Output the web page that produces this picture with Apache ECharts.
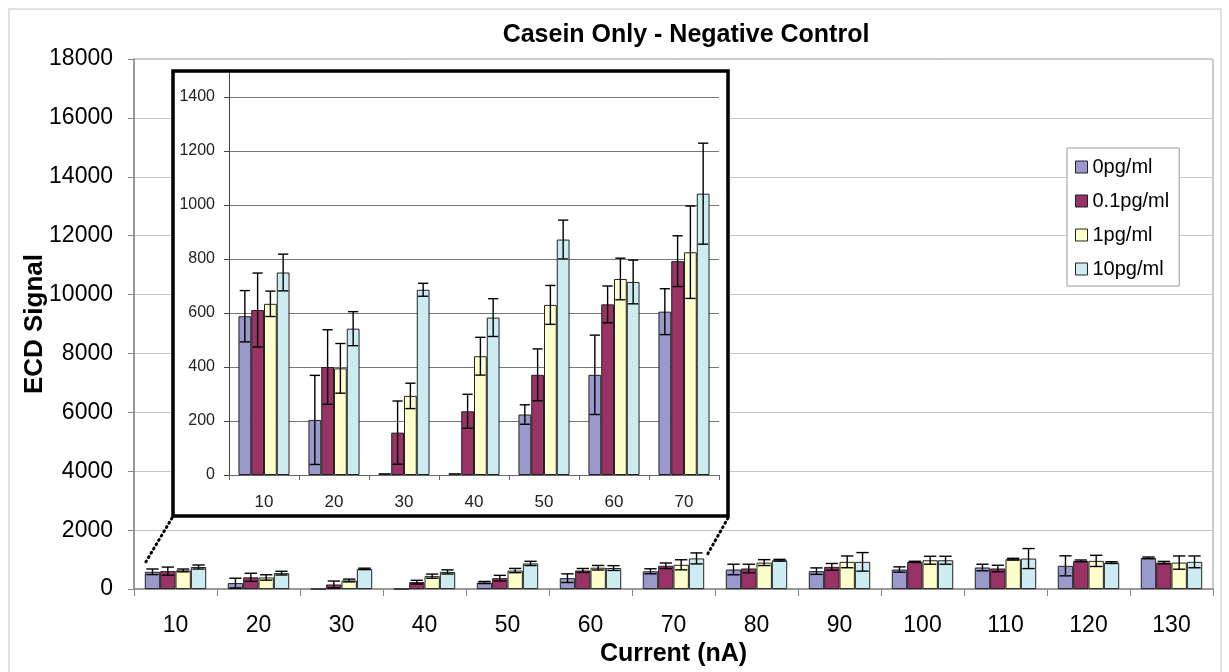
<!DOCTYPE html>
<html><head><meta charset="utf-8">
<script src="https://cdn.jsdelivr.net/npm/echarts@6/dist/echarts.min.js"></script>
<style>html,body{margin:0;padding:0;background:#fff}#c{width:1229px;height:672px}</style>
</head><body><div id="c"></div>
<script>
const categories = ['10','20','30','40','50','60','70','80','90','100','110','120','130'];
const insetCount = 7;
const seriesNames = ['0pg/ml','0.1pg/ml','1pg/ml','10pg/ml'];
const colors = ['#9999CC','#993366','#FFFFCC','#CCECF2'];
const v0 = [588, 204, 7, 7, 224, 371, 605, 665, 610, 665, 733, 790, 1060];
const e0 = [95, 165, 0, 0, 36, 147, 85, 180, 110, 90, 112, 340, 30];
const v1 = [611, 400, 157, 236, 371, 632, 792, 700, 755, 925, 700, 958, 900];
const e1 = [137, 138, 117, 63, 96, 68, 94, 145, 115, 20, 110, 30, 40];
const v2 = [634, 395, 293, 440, 630, 726, 825, 900, 925, 980, 1015, 958, 900];
const e2 = [47, 92, 47, 70, 72, 77, 171, 100, 200, 135, 30, 190, 225];
const v3 = [750, 542, 686, 583, 872, 715, 1042, 980, 925, 980, 1037, 900, 925];
const e3 = [68, 63, 24, 70, 72, 81, 187, 30, 315, 135, 340, 30, 200];
const mainTicks = {min:0, max:18000, interval:2000};
const insetTicks = {min:0, max:1500, interval:200};

const vals = [v0,v1,v2,v3], errs = [e0,e1,e2,e3];
const FONT = 'Liberation Sans, Arial, sans-serif';
const mainGap = 0.26, insetGap = 0.27;
const plain = v => String(v);

function errRender(k, errArr, gap) {
  return function(params, api) {
    const i = params.dataIndex;
    const e = errArr[i];
    if (!e) return null;
    const x0 = api.value(0), v = api.value(1);
    const c = api.coord([x0, v]);
    const catW = api.size([1, 0])[0];
    const bw = catW * (1 - gap) / 4;
    const x = c[0] + (k - 1.5) * bw;
    const top = api.coord([x0, v + e])[1];
    const bot = api.coord([x0, Math.max(0, v - e)])[1];
    const cw = bw * 0.4;
    const st = {stroke:'#000', lineWidth:1.4};
    return {type:'group', children:[
      {type:'line', shape:{x1:x, y1:top, x2:x, y2:bot}, style:st},
      {type:'line', shape:{x1:x-cw, y1:top, x2:x+cw, y2:top}, style:st},
      {type:'line', shape:{x1:x-cw, y1:bot, x2:x+cw, y2:bot}, style:st}
    ]};
  };
}

const series = [];
seriesNames.forEach((n, k) => {
  series.push({name:n, type:'bar', xAxisIndex:0, yAxisIndex:0, data:vals[k],
    barGap:'0%', barCategoryGap:(mainGap*100)+'%', z:2,
    itemStyle:{color:colors[k], borderColor:'#222', borderWidth:1}});
});
seriesNames.forEach((n, k) => {
  series.push({name:n, type:'custom', xAxisIndex:0, yAxisIndex:0, z:3,
    data:vals[k].map((v,i)=>[i,v]), renderItem:errRender(k, errs[k], mainGap)});
});
seriesNames.forEach((n, k) => {
  series.push({name:n, type:'bar', xAxisIndex:1, yAxisIndex:1, data:vals[k].slice(0, insetCount),
    barGap:'0%', barCategoryGap:(insetGap*100)+'%', z:7,
    itemStyle:{color:colors[k], borderColor:'#222', borderWidth:1}});
});
seriesNames.forEach((n, k) => {
  series.push({name:n, type:'custom', xAxisIndex:1, yAxisIndex:1, z:8,
    data:vals[k].slice(0, insetCount).map((v,i)=>[i,v]), renderItem:errRender(k, errs[k], insetGap)});
});

const chart = echarts.init(document.getElementById('c'), null, {renderer:'canvas'});
chart.setOption({
  animation:false,
  textStyle:{fontFamily:FONT},
  title:{text:'Casein Only - Negative Control', left:681, top:18, textAlign:'center',
    textStyle:{fontSize:25, fontWeight:'bold', color:'#000', fontFamily:FONT}},
  legend:{orient:'vertical', left:1067, top:148, data:seriesNames,
    padding:[9, 10, 7, 8], itemGap:14, itemWidth:12, itemHeight:12, itemTextGap:7,
    backgroundColor:'#fff', borderColor:'#999', borderWidth:1, icon:'rect',
    itemStyle:{borderColor:'#222', borderWidth:1},
    textStyle:{fontSize:20, color:'#000', fontFamily:FONT, lineHeight:20}},
  grid:[
    {left:134, top:59, width:1079, height:532, show:true, borderColor:'#999', borderWidth:1, z:0},
    {left:229, top:70, width:490, height:405, show:false, z:6}
  ],
  xAxis:[
    {type:'category', gridIndex:0, data:categories, z:0,
      axisLine:{lineStyle:{color:'#888', width:1.5}},
      axisTick:{show:true, length:7, lineStyle:{color:'#888'}},
      axisLabel:{fontSize:23, color:'#000', margin:25, fontFamily:FONT},
      name:'Current (nA)', nameLocation:'middle', nameGap:49,
      nameTextStyle:{fontSize:25, fontWeight:'bold', color:'#000', fontFamily:FONT}},
    {type:'category', gridIndex:1, data:categories.slice(0, insetCount), z:6,
      axisLine:{lineStyle:{color:'#666'}},
      axisTick:{show:true, length:5, lineStyle:{color:'#666'}},
      axisLabel:{fontSize:17, color:'#222', margin:19, fontFamily:FONT}}
  ],
  yAxis:[
    {type:'value', gridIndex:0, min:mainTicks.min, max:mainTicks.max, interval:mainTicks.interval, z:0,
      axisLine:{show:true, lineStyle:{color:'#888', width:1.5}},
      axisTick:{show:true, length:6, lineStyle:{color:'#888'}},
      splitLine:{lineStyle:{color:'#C8C8C8', width:1.2}},
      axisLabel:{fontSize:23, color:'#000', margin:21, fontFamily:FONT, formatter:plain},
      name:'ECD Signal', nameLocation:'middle', nameGap:86, nameMoveOverlap:false,
      nameTextStyle:{fontSize:26, fontWeight:'bold', color:'#000', fontFamily:FONT}},
    {type:'value', gridIndex:1, min:insetTicks.min, max:insetTicks.max, interval:insetTicks.interval, z:6,
      axisLine:{show:true, lineStyle:{color:'#444'}},
      axisTick:{show:true, length:5, lineStyle:{color:'#444'}},
      splitLine:{lineStyle:{color:'#777'}},
      axisLabel:{fontSize:16, color:'#222', margin:14, showMaxLabel:false, fontFamily:FONT, formatter:plain}}
  ],
  graphic:[
    {type:'rect', z:-10, silent:true, shape:{x:9, y:9, width:1212, height:680},
      style:{fill:'#fff', stroke:'#D9D9D9', lineWidth:1.5}},
    {type:'rect', z:5, silent:true, shape:{x:173, y:71, width:555, height:445},
      style:{fill:'#fff', stroke:null}},
    {type:'rect', z:20, silent:true, shape:{x:173, y:71, width:555, height:445},
      style:{fill:null, stroke:'#000', lineWidth:3.5}},
    {type:'line', z:20, silent:true, shape:{x1:172, y1:518, x2:144, y2:565},
      style:{stroke:'#000', lineWidth:3, lineDash:[1,4], lineCap:'round'}},
    {type:'line', z:20, silent:true, shape:{x1:728, y1:518, x2:706, y2:557},
      style:{stroke:'#000', lineWidth:3, lineDash:[1,4], lineCap:'round'}}
  ],
  series:series
});
</script></body></html>
